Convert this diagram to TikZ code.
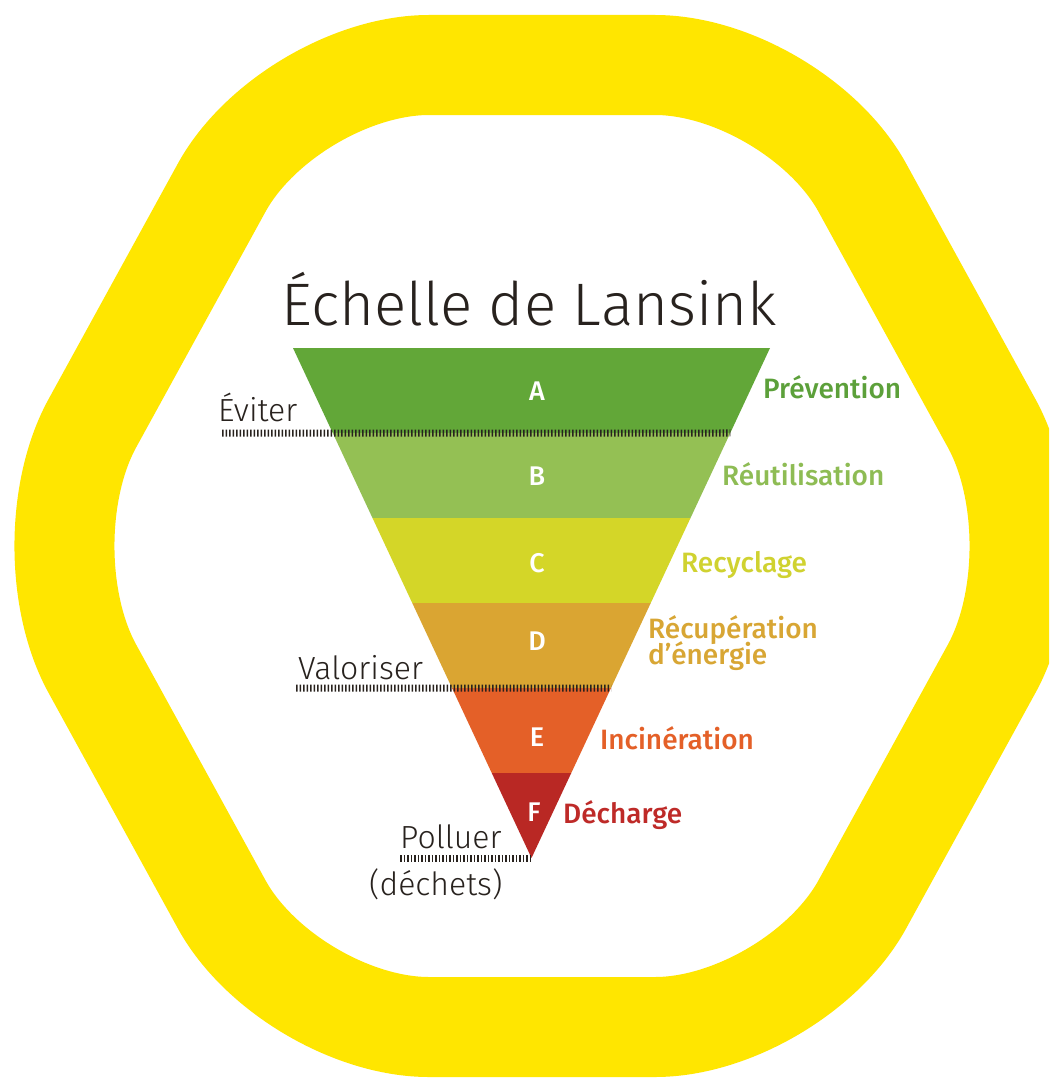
\documentclass[tikz,border=0pt]{standalone}
\usepackage{fontspec}
\usetikzlibrary{calc}
\IfFontExistsTF{Fira Sans Light}{\newfontfamily\lightf{Fira Sans Light}}{\newfontfamily\lightf{Fira Sans}}
\IfFontExistsTF{Fira Sans Medium}{\newfontfamily\medf{Fira Sans Medium}}{\newfontfamily\medf{Fira Sans}}
\definecolor{hexyellow}{RGB}{255,230,0}
\definecolor{bandA}{RGB}{98,167,56}
\definecolor{bandB}{RGB}{148,192,84}
\definecolor{bandC}{RGB}{212,214,40}
\definecolor{bandD}{RGB}{218,165,50}
\definecolor{bandE}{RGB}{228,96,40}
\definecolor{bandF}{RGB}{185,40,36}
\definecolor{ink}{RGB}{40,34,30}
\definecolor{txtA}{RGB}{92,160,58}
\definecolor{txtB}{RGB}{142,188,84}
\definecolor{txtC}{RGB}{208,210,48}
\definecolor{txtD}{RGB}{216,166,52}
\definecolor{txtE}{RGB}{228,96,40}
\definecolor{txtF}{RGB}{190,42,40}
\tikzset{
  hatch/.style={draw=ink, line width=7pt, dash pattern=on 1.6pt off 1.9pt},
  letter/.style={inner sep=0pt, text=white, font=\medf\fontsize{27}{30}\selectfont},
  rlabel/.style={inner sep=0pt, anchor=base west, font=\medf\fontsize{28}{29}\selectfont},
  llabel/.style={inner sep=0pt, anchor=base west, text=ink, font=\lightf\fontsize{32}{36}\selectfont},
}
\begin{document}
\begin{tikzpicture}[x=1pt,y=-1pt]
\useasboundingbox (0,0) rectangle (1049,1081);
\fill[white] (0,0) rectangle (1049,1081);
\begin{scope}
\clip (0,0) rectangle (1049,1081);
\draw[hexyellow, line width=100pt, rounded corners=140pt]
  (25,546) -- (289,65) -- (795,65) -- (1059,546) -- (795,1027) -- (289,1027) -- cycle;
\end{scope}
% triangle
\coordinate (TL) at (293,348);
\coordinate (TR) at (770,348);
\coordinate (AP) at (531.5,858);
\foreach \i in {0,...,6}{
  \coordinate (L\i) at ($(TL)!\i/6!(AP)$);
  \coordinate (R\i) at ($(TR)!\i/6!(AP)$);
}
\fill[bandA] (L0) -- (R0) -- (R1) -- (L1) -- cycle;
\fill[bandB] (L1) -- (R1) -- (R2) -- (L2) -- cycle;
\fill[bandC] (L2) -- (R2) -- (R3) -- (L3) -- cycle;
\fill[bandD] (L3) -- (R3) -- (R4) -- (L4) -- cycle;
\fill[bandE] (L4) -- (R4) -- (R5) -- (L5) -- cycle;
\fill[bandF] (L5) -- (R5) -- (AP) -- cycle;
% letters
\node[letter] (la) at (537,391) {A};
\node[letter] (lb) at (537,476) {B};
\node[letter] (lc) at (537,563) {C};
\node[letter] (ld) at (537,641) {D};
\node[letter] (le) at (537,737) {E};
\node[letter] (lf) at (534,812) {F};
% title
\node[inner sep=0pt, anchor=base, text=ink, font=\lightf\fontsize{60}{70}\selectfont] (title) at (529,325) {Échelle de Lansink};
% right labels
\node[rlabel, text=txtA] (prev) at (763,398) {Prévention};
\node[rlabel, text=txtB] (reut) at (722,485) {Réutilisation};
\node[rlabel, text=txtC] (recy) at (681,572) {Recyclage};
\node[rlabel, text=txtD] (recu) at (648,638) {Récupération};
\node[rlabel, text=txtD] (ener) at (648,664) {d’énergie};
\node[rlabel, text=txtE] (inci) at (600,749) {Incinération};
\node[rlabel, text=txtF] (dech) at (563,823) {Décharge};
% left labels
\node[llabel] (evit) at (218,421) {Éviter};
\node[llabel] (valo) at (298,679) {Valoriser};
\node[llabel] (poll) at (400,848) {Polluer};
\node[llabel] (dchs) at (369,895) {(déchets)};
% hatch lines
\coordinate (hev) at (222,433);
\coordinate (hva) at (296,688);
\coordinate (hpo) at (400,858);
\draw[hatch] (hev) -- (R1);
\draw[hatch] (hva) -- (R4);
\draw[hatch] (hpo) -- (AP);
\end{tikzpicture}
\end{document}
